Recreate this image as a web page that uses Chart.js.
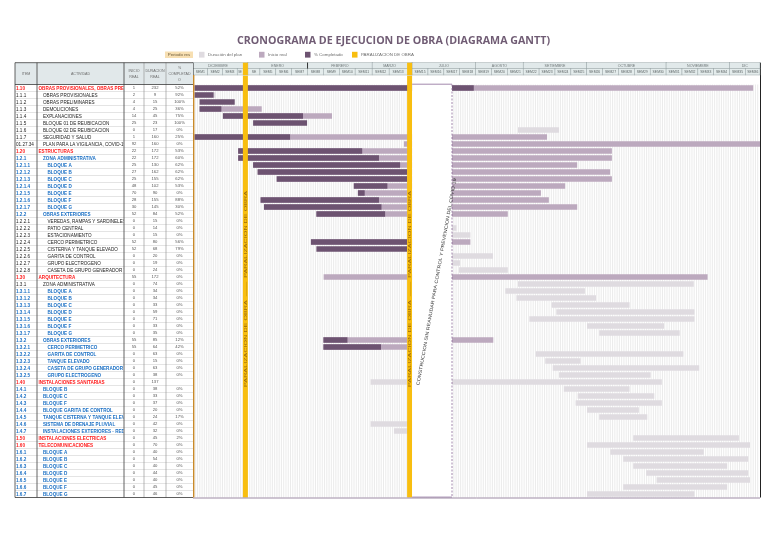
<!DOCTYPE html>
<html lang="es">
<head>
<meta charset="utf-8">
<title>Cronograma de ejecucion de obra</title>
<script src="https://cdn.jsdelivr.net/npm/chart.js@4.4.1/dist/chart.umd.min.js"></script>
<style>
  html, body { margin: 0; padding: 0; background: #fff; }
  canvas { display: block; }
</style>
</head>
<body>
<canvas id="gantt" width="768" height="543"></canvas>
<script>
// --- datos de la tabla ---
const items = [
  '1.10', '1.1.1', '1.1.2', '1.1.3', '1.1.4', '1.1.5', '1.1.6', '1.1.7', '01.27.34',
  '1.20', '1.2.1', '1.2.1.1', '1.2.1.2', '1.2.1.3', '1.2.1.4', '1.2.1.5', '1.2.1.6', '1.2.1.7',
  '1.2.2', '1.2.2.1', '1.2.2.2', '1.2.2.3', '1.2.2.4', '1.2.2.5', '1.2.2.6', '1.2.2.7', '1.2.2.8',
  '1.30', '1.3.1', '1.3.1.1', '1.3.1.2', '1.3.1.3', '1.3.1.4', '1.3.1.5', '1.3.1.6', '1.3.1.7',
  '1.3.2', '1.3.2.1', '1.3.2.2', '1.3.2.3', '1.3.2.4', '1.3.2.5',
  '1.40', '1.4.1', '1.4.2', '1.4.3', '1.4.4', '1.4.5', '1.4.6', '1.4.7',
  '1.50', '1.60', '1.6.1', '1.6.2', '1.6.3', '1.6.4', '1.6.5', '1.6.6', '1.6.7'
]
const activities = [
  'OBRAS PROVISIONALES, OBRAS PRELIMINARES', 'OBRAS PROVISIONALES', 'OBRAS PRELIMINARES', 'DEMOLICIONES',
  'EXPLANACIONES', 'BLOQUE 01 DE REUBICACION', 'BLOQUE 02 DE REUBICACION', 'SEGURIDAD Y SALUD',
  'PLAN PARA LA VIGILANCIA, COVID-19',
  'ESTRUCTURAS', 'ZONA ADMINISTRATIVA', 'BLOQUE A', 'BLOQUE B', 'BLOQUE C', 'BLOQUE D', 'BLOQUE E', 'BLOQUE F', 'BLOQUE G',
  'OBRAS EXTERIORES', 'VEREDAS, RAMPAS Y SARDINELES', 'PATIO CENTRAL', 'ESTACIONAMIENTO', 'CERCO PERIMETRICO',
  'CISTERNA Y TANQUE ELEVADO', 'GARITA DE CONTROL', 'GRUPO ELECTROGENO', 'CASETA DE GRUPO GENERADOR Y TABLERO',
  'ARQUITECTURA', 'ZONA ADMINISTRATIVA', 'BLOQUE A', 'BLOQUE B', 'BLOQUE C', 'BLOQUE D', 'BLOQUE E', 'BLOQUE F', 'BLOQUE G',
  'OBRAS EXTERIORES', 'CERCO PERIMETRICO', 'GARITA DE CONTROL', 'TANQUE ELEVADO',
  'CASETA DE GRUPO GENERADOR Y TABLERO', 'GRUPO ELECTROGENO',
  'INSTALACIONES SANITARIAS', 'BLOQUE B', 'BLOQUE C', 'BLOQUE F', 'BLOQUE GARITA DE CONTROL',
  'TANQUE CISTERNA Y TANQUE ELEVADO', 'SISTEMA DE DRENAJE PLUVIAL', 'INSTALACIONES EXTERIORES - RED DE DESAGUE',
  'INSTALACIONES ELECTRICAS', 'TELECOMUNICACIONES',
  'BLOQUE A', 'BLOQUE B', 'BLOQUE C', 'BLOQUE D', 'BLOQUE E', 'BLOQUE F', 'BLOQUE G'
]
const startReal = [
  1, 2, 4, 4, 14, 25, 0, 1, 92,
  22, 22, 25, 27, 25, 48, 70, 28, 30,
  52, 0, 0, 0, 52, 52, 0, 0, 0,
  55, 0, 0, 0, 0, 0, 0, 0, 0,
  55, 55, 0, 0, 0, 0,
  0, 0, 0, 0, 0, 0, 0, 0,
  0, 0, 0, 0, 0, 0, 0, 0, 0
]
const durReal = [
  232, 9, 15, 25, 45, 23, 17, 160, 160,
  172, 172, 130, 162, 155, 102, 90, 155, 145,
  84, 15, 14, 15, 80, 68, 20, 19, 24,
  172, 74, 34, 34, 33, 59, 71, 33, 35,
  85, 64, 63, 15, 63, 38,
  137, 38, 33, 37, 20, 24, 42, 32,
  45, 70, 40, 54, 40, 44, 40, 45, 46
]
const pctDone = [
  '52%', '92%', '100%', '36%', '75%', '100%', '0%', '25%', '0%',
  '53%', '60%', '62%', '62%', '62%', '53%', '0%', '88%', '30%',
  '52%', '0%', '0%', '0%', '56%', '79%', '0%', '0%', '0%',
  '0%', '0%', '0%', '0%', '0%', '0%', '0%', '0%', '0%',
  '12%', '42%', '0%', '0%', '0%', '0%',
  '', '0%', '0%', '0%', '0%', '17%', '0%', '0%',
  '2%', '0%', '0%', '0%', '0%', '0%', '0%', '0%', '0%'
]

// --- barras (dias desde el inicio) ---
const planBars = [
  null, [0.7, 10], null, null, null, null, [143.3, 161.4], null, null,
  null, null, null, null, null, null, null, null, null,
  null, [98, 113], [100, 116.2], [107, 122.3], null, null, [112, 132.3], [98, 117.7], [117.3, 138.8],
  null, [143.3, 220.8], [137.7, 172.8], [142.6, 177.7], [158.1, 192.5], [160.2, 221.1], [148.3, 221.1], [173.7, 207.7], [179.1, 214.6],
  null, null, [151.1, 216.2], [155.3, 170.9], [158.6, 223.2], [161.4, 201.8],
  [78.3, 206.7], [163.5, 192.5], [169.6, 203.4], [168.7, 206.7], [173.7, 196.6], [179.1, 200.3], [78.3, 112], [88.6, 112],
  [194.1, 240.7], [173.7, 245.6], [184, 225.2], [189.7, 244.8], [194.1, 235.5], [199.8, 244.8], [204.4, 245.6], [189.7, 235.5], [173.7, 221.1]
]
const realBars = [
  [0.7, 247], null, null, [2.9, 30.3], [13.2, 61.3], null, null, [0.7, 156.1], [93, 250],
  [19.9, 184.7], [19.9, 184.7], [26.5, 169.4], [28.5, 183.9], [36.9, 184.7], [70.9, 164.1], [72.7, 153.4], [29.8, 156.9], [31.3, 169.4],
  [54.4, 138.8], null, null, null, [52, 122.3], null, null, null, null,
  [57.6, 226.9], null, null, null, null, null, null, null, null,
  [57.5, 132.4], [57.5, 112], null, null, null, null,
  null, null, null, null, null, null, null, null,
  null, null, null, null, null, null, null, null, null
]
const doneBars = [
  [0.7, 123.8], [0.7, 9.1], [2.9, 18.4], [2.9, 12.5], [13.2, 48.5], [26.5, 50.3], null, [0.7, 42.8], null,
  [19.9, 74.6], [19.9, 82], [26.5, 91.3], [28.5, 94.4], [36.9, 94.4], [70.9, 85.7], [72.7, 75.7], [29.8, 82], [31.3, 83.1],
  [54.4, 84.7], null, null, null, [52, 94.4], [54.4, 94.4], null, null, null,
  null, null, null, null, null, null, null, null, null,
  [57.5, 68.1], [57.5, 82.9], null, null, null, null,
  null, null, null, null, null, null, null, null,
  null, null, null, null, null, null, null, null, null
]

// --- calendario ---
const totalDays = 250
const monthLabels = ['DICIEMBRE', 'ENERO', 'FEBRERO', 'MARZO', 'JULIO', 'AGOSTO', 'SETIEMBRE', 'OCTUBRE', 'NOVIEMBRE', 'DIC']
const monthStarts = [0, 24.2, 50.5, 79, 96.6, 124.6, 145.6, 173.6, 208.6, 236.6]
const weekLabels = [
  'SEM1', 'SEM2', 'SEM3', 'SE', 'SE', 'SEM5', 'SEM6', 'SEM7', 'SEM8', 'SEM9', 'SEM10', 'SEM11', 'SEM12', 'SEM13',
  'SEM15', 'SEM16', 'SEM17', 'SEM18', 'SEM19', 'SEM20', 'SEM21', 'SEM22', 'SEM23', 'SEM24', 'SEM25',
  'SEM26', 'SEM27', 'SEM28', 'SEM29', 'SEM30', 'SEM31', 'SEM32', 'SEM33', 'SEM34', 'SEM35', 'SEM36'
]
const weekStarts = [
  0, 6.5, 13, 19.5, 24.2, 29.5, 36.5, 43.5, 50.5, 57.5, 64.5, 71.5, 79, 86.5,
  96.6, 103.6, 110.6, 117.6, 124.6, 131.6, 138.6, 145.6, 152.6, 159.6, 166.6,
  173.6, 180.6, 187.6, 194.6, 201.6, 208.6, 215.6, 222.6, 229.6, 236.6, 243.6
]
const stopDays = [[22, 24.2], [94.4, 96.6]]
const covidBox = [96.6, 114.2]

const DONE = '#6d5371'
const REAL = '#bca9be'
const PLAN = '#dfdbe0'
const STOP = '#f8be10'
const NARROW = '"Liberation Sans Narrow", "Liberation Sans", Arial, sans-serif'
const SANS = '"Open Sans", "Liberation Sans", sans-serif'

const tone = item => {
  if (item.split('.').length === 2) return '#ff1a1a'
  if (/^1\.2\.1/.test(item) || item === '1.2.2' || /^1\.3\.1\./.test(item) ||
      /^1\.3\.2/.test(item) || /^1\.4\./.test(item) || /^1\.6\./.test(item)) return '#1a6fc4'
  return '#222'
}

const fitText = (ctx, text, x, y, maxW) => {
  const w = ctx.measureText(text).width
  if (w <= maxW) { ctx.fillText(text, x, y); return }
  ctx.save()
  ctx.translate(x, y)
  ctx.scale(maxW / w, 1)
  ctx.fillText(text, 0, 0)
  ctx.restore()
}

const stretchText = (ctx, text, x, y, width) => {
  const w = ctx.measureText(text).width
  ctx.save()
  ctx.translate(x, y)
  ctx.scale(width / w, 1)
  ctx.fillText(text, 0, 0)
  ctx.restore()
}

const line = (ctx, x1, y1, x2, y2) => {
  ctx.beginPath()
  ctx.moveTo(x1, y1)
  ctx.lineTo(x2, y2)
  ctx.stroke()
}

// recorta un tramo para que no pise las paralizaciones
const visibleEnd = (s, e) => {
  for (const [a] of stopDays) if (a > s && a < e) return a
  return e
}

const drawHeader = (chart) => {
  const { ctx, chartArea: a, scales: { x } } = chart
  const top = 62.7, mid = 68.6, bot = 75
  ctx.save()
  ctx.lineWidth = 0.5
  ctx.strokeStyle = '#9aa6a8'
  ctx.textAlign = 'center'
  ctx.textBaseline = 'middle'
  monthLabels.forEach((m, i) => {
    const s = monthStarts[i]
    const e = i + 1 < monthStarts.length ? monthStarts[i + 1] : totalDays
    const x1 = x.getPixelForValue(s), x2 = x.getPixelForValue(e)
    ctx.fillStyle = '#e1e9ea'
    ctx.fillRect(x1, top, x2 - x1, mid - top)
    ctx.strokeRect(x1, top, x2 - x1, mid - top)
    ctx.fillStyle = '#6f7778'
    ctx.font = '3.6px ' + NARROW
    const xe = x.getPixelForValue(visibleEnd(s, e))
    fitText(ctx, m, (x1 + xe) / 2, (top + mid) / 2 + 0.2, xe - x1 - 2)
  })
  weekLabels.forEach((w, i) => {
    const s = weekStarts[i]
    const e = i + 1 < weekStarts.length ? weekStarts[i + 1] : totalDays
    const x1 = x.getPixelForValue(s), x2 = x.getPixelForValue(e)
    ctx.fillStyle = '#e4ecec'
    ctx.fillRect(x1, mid, x2 - x1, bot - mid)
    ctx.strokeRect(x1, mid, x2 - x1, bot - mid)
    ctx.fillStyle = '#5d6566'
    ctx.font = '3.4px ' + NARROW
    const xe = x.getPixelForValue(visibleEnd(s, e))
    fitText(ctx, w, (x1 + xe) / 2, (mid + bot) / 2 + 0.2, xe - x1 - 2)
  })
  // separadores gruesos del encabezado
  ctx.strokeStyle = '#222'
  ctx.lineWidth = 0.9
  line(ctx, x.getPixelForValue(monthStarts[2]), top, x.getPixelForValue(monthStarts[2]), mid)
  line(ctx, a.left, top, a.left, bot)
  stopDays.forEach(([s, e]) => {
    ctx.fillStyle = STOP
    const x1 = x.getPixelForValue(s), x2 = x.getPixelForValue(e)
    ctx.fillRect(x1, top, x2 - x1, bot - top)
  })
  ctx.restore()
}

const drawTable = (chart) => {
  const { ctx, chartArea: a, scales: { y } } = chart
  const cols = [15, 37, 124, 144, 166, a.left]
  const headTop = 62.7
  const rowH = (a.bottom - a.top) / items.length
  ctx.save()
  ctx.fillStyle = '#e1e8ea'
  ctx.fillRect(cols[0], headTop, cols[5] - cols[0], a.top - headTop)
  ctx.fillStyle = '#6a6a6a'
  ctx.textAlign = 'center'
  ctx.textBaseline = 'middle'
  ctx.font = '3.6px ' + NARROW
  const heads = [['ITEM'], ['ACTIVIDAD'], ['INICIO', 'REAL'], ['DURACION', 'REAL'], ['%', 'COMPLETAD', 'O']]
  heads.forEach((h, c) => {
    const cx = (cols[c] + cols[c + 1]) / 2
    const cy = (headTop + a.top) / 2
    h.forEach((t, k) => ctx.fillText(t, cx, cy + (k - (h.length - 1) / 2) * 6))
  })
  // filas
  ctx.strokeStyle = '#c9c9c9'
  ctx.lineWidth = 0.5
  items.forEach((item, i) => {
    const yc = y.getPixelForValue(i)
    line(ctx, cols[0], yc + rowH / 2, cols[5], yc + rowH / 2)
    const color = tone(item)
    const strong = color !== '#222'
    const depth = item.split('.').length - 2
    ctx.fillStyle = color
    ctx.textAlign = 'left'
    ctx.font = (strong ? 'bold ' : '') + '4.6px ' + NARROW
    fitText(ctx, item, cols[0] + 1, yc + 0.3, cols[1] - cols[0] - 2)
    ctx.save()
    ctx.beginPath()
    ctx.rect(cols[1], yc - rowH / 2, cols[2] - cols[1] - 0.5, rowH)
    ctx.clip()
    ctx.fillText(activities[i], cols[1] + 1.5 + depth * 4.5, yc + 0.3)
    ctx.restore()
    ctx.fillStyle = '#555'
    ctx.textAlign = 'center'
    ctx.font = '4.2px ' + NARROW
    ctx.fillText(String(startReal[i]), (cols[2] + cols[3]) / 2, yc + 0.3)
    ctx.fillText(String(durReal[i]), (cols[3] + cols[4]) / 2, yc + 0.3)
    ctx.fillText(pctDone[i], (cols[4] + cols[5]) / 2, yc + 0.3)
  })
  // columnas
  ctx.lineWidth = 0.8
  ctx.strokeStyle = '#3c3c3c'
  ;[0, 1, 2].forEach(c => line(ctx, cols[c], headTop, cols[c], a.bottom))
  ctx.strokeStyle = '#8a8a8a'
  ctx.lineWidth = 0.6
  ;[3, 4].forEach(c => line(ctx, cols[c], headTop, cols[c], a.bottom))
  ctx.strokeStyle = '#3c3c3c'
  ctx.lineWidth = 0.8
  line(ctx, cols[0], headTop, cols[5], headTop)
  line(ctx, cols[0], a.top, cols[5], a.top)
  line(ctx, cols[0], a.bottom, cols[5], a.bottom)
  ctx.strokeStyle = '#c98a2a'
  ctx.lineWidth = 1.4
  line(ctx, cols[5] + 0.7, 75, cols[5] + 0.7, a.bottom)
  ctx.restore()
}

const drawTitleAndLegend = (chart) => {
  const { ctx } = chart
  ctx.save()
  ctx.fillStyle = '#705c74'
  ctx.textAlign = 'left'
  ctx.textBaseline = 'middle'
  ctx.font = 'bold 11px ' + SANS
  stretchText(ctx, 'CRONOGRAMA DE EJECUCION DE OBRA (DIAGRAMA GANTT)', 237, 40.5, 313)

  ctx.fillStyle = '#f7dfb2'
  ctx.fillRect(165, 51.5, 28, 6.5)
  ctx.fillStyle = '#6b5a3a'
  ctx.textAlign = 'center'
  ctx.font = '4.4px ' + NARROW
  ctx.fillText('Periodo res', 179, 55)
  const keys = [
    [199, PLAN, 'Duración del plan'],
    [259, REAL, 'Inicio real'],
    [305, DONE, '% Completado'],
    [352, STOP, 'PARALIZACION DE OBRA']
  ]
  keys.forEach(([kx, col, label]) => {
    ctx.fillStyle = col
    ctx.fillRect(kx, 51.8, 5.5, 5.8)
    ctx.fillStyle = '#6d6d6d'
    ctx.textAlign = 'left'
    ctx.fillText(label, kx + 9, 55)
  })
  ctx.restore()
}

const ganttPlugin = {
  id: 'ganttFrame',
  beforeDatasetsDraw(chart) {
    const { ctx, chartArea: a, scales: { x } } = chart
    ctx.save()
    ctx.strokeStyle = '#e3e3e3'
    ctx.lineWidth = 0.7
    for (let d = 1; d < totalDays; d++) {
      const p = x.getPixelForValue(d)
      line(ctx, p, a.top, p, a.bottom)
    }
    ctx.restore()
  },
  afterDatasetsDraw(chart) {
    const { ctx, chartArea: a, scales: { x } } = chart
    ctx.save()
    // paralizaciones
    stopDays.forEach(([s, e]) => {
      const x1 = x.getPixelForValue(s), x2 = x.getPixelForValue(e)
      ctx.fillStyle = STOP
      ctx.fillRect(x1, a.top - 9, x2 - x1, a.bottom - a.top + 9)
      ctx.save()
      ctx.translate((x1 + x2) / 2, a.top + (a.bottom - a.top) * 0.495)
      ctx.rotate(-Math.PI / 2)
      ctx.fillStyle = '#9b6a06'
      ctx.textAlign = 'center'
      ctx.textBaseline = 'middle'
      ctx.font = '4px ' + NARROW
      stretchText(ctx, 'PARALIZACION DE OBRA  ——  PARALIZACION DE OBRA', 0, 0.2, 196)
      ctx.restore()
    })
    // recuadro COVID-19
    const b1 = x.getPixelForValue(covidBox[0]), b2 = x.getPixelForValue(covidBox[1])
    ctx.fillStyle = '#fff'
    ctx.fillRect(b1, a.top - 0.5, b2 - b1, a.bottom - a.top + 0.5)
    ctx.strokeStyle = '#8a6a98'
    ctx.lineWidth = 0.8
    line(ctx, b1, a.top - 0.3, b2, a.top - 0.3)
    line(ctx, b1, a.bottom - 0.4, b2, a.bottom - 0.4)
    ctx.setLineDash([2, 1.5])
    line(ctx, b2, a.top, b2, a.bottom)
    ctx.setLineDash([])
    ctx.save()
    ctx.translate(b1 + 6, a.top + (a.bottom - a.top) * 0.728)
    ctx.rotate(-Math.atan2(207, 37))
    ctx.fillStyle = '#333'
    ctx.textAlign = 'left'
    ctx.textBaseline = 'middle'
    ctx.font = '4.6px ' + NARROW
    stretchText(ctx, 'CONSTRUCCION SIN REANUDAR PARA CONTROL Y PREVENCION DEL COVID-19', 0, 0, 210)
    ctx.restore()
    // bordes del diagrama
    ctx.strokeStyle = '#222'
    ctx.lineWidth = 1
    line(ctx, a.right + 0.5, 62.7, a.right + 0.5, a.bottom)
    ctx.strokeStyle = '#9c8aa4'
    line(ctx, a.left, a.bottom + 0.5, a.right, a.bottom + 0.5)
    ctx.restore()
  },
  afterDraw(chart) {
    drawHeader(chart)
    drawTable(chart)
    drawTitleAndLegend(chart)
  }
}

const bar = (label, data, color) => ({
  label,
  data,
  backgroundColor: color,
  borderWidth: 0,
  barPercentage: 0.8,
  categoryPercentage: 1,
  grouped: false
})

new Chart(document.getElementById('gantt').getContext('2d'), {
  type: 'bar',
  data: {
    labels: items,
    datasets: [
      bar('% Completado', doneBars, DONE),
      bar('Inicio real', realBars, REAL),
      bar('Duración del plan', planBars, PLAN)
    ]
  },
  options: {
    indexAxis: 'y',
    responsive: false,
    animation: false,
    layout: { padding: { left: 193, right: 8, top: 84.5, bottom: 45.5 } },
    scales: {
      x: { type: 'linear', min: 0, max: totalDays, display: false },
      y: { display: false }
    },
    plugins: {
      legend: { display: false },
      tooltip: { enabled: false }
    }
  },
  plugins: [ganttPlugin]
})
</script>
</body>
</html>
